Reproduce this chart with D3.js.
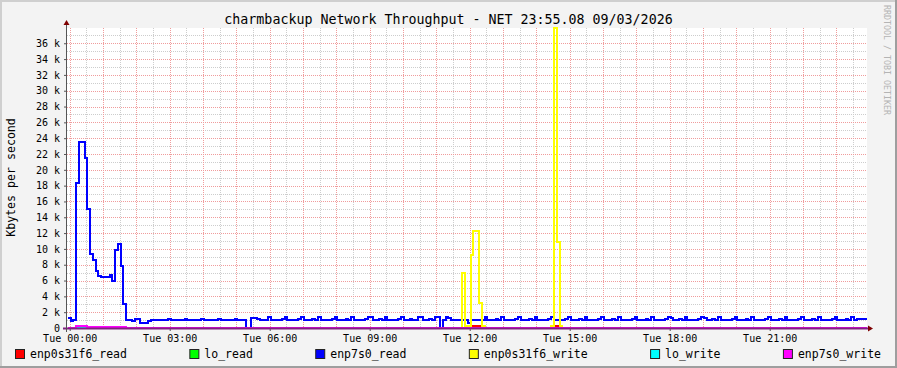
<!DOCTYPE html>
<html>
<head>
<meta charset="utf-8">
<script src="https://cdn.jsdelivr.net/npm/d3@7"></script>
<style>
  body { margin: 0; background: #f3f3f3; }
  svg { display: block; }
  text { font-family: "DejaVu Sans Mono", monospace; }
</style>
</head>
<body>
<script>
const title = "charmbackup Network Throughput - NET 23:55.08 09/03/2026";
const yLabel = "Kbytes per second";
const watermark = "RRDTOOL / TOBI OETIKER";

const seriesNames = ["enp0s31f6_read", "lo_read", "enp7s0_read", "enp0s31f6_write", "lo_write", "enp7s0_write"];
const seriesColors = ["#ff0000", "#00ff00", "#0000ff", "#ffff00", "#00ffff", "#ff00ff"];

// 5 minute samples, Mon 23:55 .. Tue 23:50 (288 values, kbytes/s)
const enp0s31f6_read = [
  0,0,0,0,0,0,0,0,0,0,0,0,0,0,0,0,0,0,0,0,0,0,0,0,
  0,0,0,0,0,0,0,0,0,0,0,0,0,0,0,0,0,0,0,0,0,0,0,0,
  0,0,0,0,0,0,0,0,0,0,0,0,0,0,0,0,0,0,0,0,0,0,0,0,
  0,0,0,0,0,0,0,0,0,0,0,0,0,0,0,0,0,0,0,0,0,0,0,0,
  0,0,0,0,0,0,0,0,0,0,0,0,0,0,0,0,0,0,0,0,0,0,0,0,
  0,0,0,0,0,0,0,0,0,0,0,0,0,0,0,0,0,0,0,0,0,0,0,0,
  0,0.3,0.3,0.3,0.25,0,0,0,0,0,0,0,0,0,0,0,0,0,0,0,0,0,0,0,
  0,0,0,0,0,0,0,0.25,0.2,0,0,0,0,0,0,0,0,0,0,0,0,0,0,0,
  0,0,0,0,0,0,0,0,0,0,0,0,0,0,0,0,0,0,0,0,0,0,0,0,
  0,0,0,0,0,0,0,0,0,0,0,0,0,0,0,0,0,0,0,0,0,0,0,0,
  0,0,0,0,0,0,0,0,0,0,0,0,0,0,0,0,0,0,0,0,0,0,0,0,
  0,0,0,0,0,0,0,0,0,0,0,0,0,0,0,0,0,0,0,0,0,0,0,0
];
const lo_read = [
  0,0,0,0,0.05,0.05,0,0,0,0,0,0,0,0,0,0,0,0,0,0,0,0,0,0,
  0,0,0,0,0,0,0,0,0,0,0,0,0,0,0,0,0,0,0,0,0,0,0,0,
  0,0,0,0,0,0,0,0,0,0,0,0,0,0,0,0,0,0,0,0,0,0,0,0,
  0,0,0,0,0,0,0,0,0,0,0,0,0,0,0,0,0,0,0,0,0,0,0,0,
  0,0,0,0,0,0,0,0,0,0,0,0,0,0,0,0,0,0,0,0,0,0,0,0,
  0,0,0,0,0,0,0,0,0,0,0,0,0,0,0,0,0,0,0,0,0,0,0,0,
  0,0,0,0,0,0,0,0,0,0,0,0,0,0,0,0,0,0,0,0,0,0,0,0,
  0,0,0,0,0,0,0,0,0,0,0,0,0,0,0,0,0,0,0,0,0,0,0,0,
  0,0,0,0,0,0,0,0,0,0,0,0,0,0,0,0,0,0,0,0,0,0,0,0,
  0,0,0,0,0,0,0,0,0,0,0,0,0,0,0,0,0,0,0,0,0,0,0,0,
  0,0,0,0,0,0,0,0,0,0,0,0,0,0,0,0,0,0,0,0,0,0,0,0,
  0,0,0,0,0,0,0,0,0,0,0,0,0,0,0,0,0,0,0,0,0,0,0,0
];
const enp7s0_read = [
  1.3,0.85,0.95,18.3,23.5,23.5, 21.5,15.0,9.4,8.6,7.2,6.6,
  6.45,6.45,6.45,6.75,6.0,9.8, 10.65,7.8,3.07,1.05,1.05,0.85,
  1.1,1.1,0.63,0.63,0.63,0.88, 1.0,1.0,1.0,1.05,1.0,1.0,
  1.15,1.0,1.0,0.95,1.0,1.05, 1.15,1.0,1.0,1.0,1.05,1.0,
  1.15,1.05,1.0,0.95,1.0,1.0, 1.15,1.0,1.0,1.0,1.05,1.0,
  1.15,1.0,1.0,1.0,0,0, 1.25,1.25,1.2,1.05,1.0,1.05,
  1.4,1.05,1.0,1.0,1.0,1.1, 1.4,1.0,1.0,1.05,1.0,1.1,
  1.4,1.0,0.95,1.0,1.1,1.0, 1.4,1.05,1.0,1.0,1.0,1.1,
  1.4,1.0,1.0,1.05,1.1,1.0, 1.45,1.0,1.0,1.0,1.0,1.1,
  1.4,1.4,1.0,1.0,1.1,1.0, 1.45,1.0,1.05,1.0,1.0,1.15,
  1.4,1.0,1.0,1.1,1.0,1.05, 1.45,1.45,1.0,1.0,1.15,1.0,
  1.4,1.4,0.05,1.0,1.4,1.3, 1.05,1.0,1.0,1.05,1.0,1.0,
  0.6,1.05,1.05,1.05,1.0,1.05, 1.4,1.05,1.0,1.0,1.1,1.0,
  1.4,1.0,1.0,1.05,1.0,1.1, 1.4,1.05,1.0,1.0,1.1,1.0,
  1.4,1.0,1.0,1.05,1.0,1.1, 1.35,1.0,1.05,1.0,1.0,1.1,
  1.4,1.05,1.0,1.0,1.1,1.0, 1.35,1.0,1.0,1.05,1.0,1.1,
  1.4,1.0,1.0,1.0,1.1,1.05, 1.35,1.05,1.0,1.0,1.0,1.1,
  1.4,1.0,1.0,1.05,1.1,1.0, 1.4,1.0,0.95,1.0,1.0,1.1,
  1.4,1.3,1.0,1.0,1.1,1.0, 1.4,1.0,1.0,1.05,1.0,1.1,
  1.4,1.3,1.0,1.0,1.1,1.05, 1.4,1.05,1.0,1.0,1.0,1.1,
  1.4,1.0,1.0,1.05,1.1,1.0, 1.35,1.0,1.0,1.0,1.0,1.1,
  1.4,1.05,1.0,1.0,1.1,1.0, 1.4,1.0,1.0,1.05,1.0,1.1,
  1.35,1.0,1.0,1.0,1.1,1.05, 1.4,1.05,1.0,1.0,1.0,1.1,
  1.4,1.0,1.0,1.05,1.1,1.0, 1.35,1.0,1.1,1.15,1.15,1.15
];
const enp0s31f6_write = [
  0,0,0,0,0,0,0,0,0,0,0,0,0,0,0,0,0,0,0,0,0,0,0,0,
  0,0,0,0,0,0,0,0,0,0,0,0,0,0,0,0,0,0,0,0,0,0,0,0,
  0,0,0,0,0,0,0,0,0,0,0,0,0,0,0,0,0,0,0,0,0,0,0,0,
  0,0,0,0,0,0,0,0,0,0,0,0,0,0,0,0,0,0,0,0,0,0,0,0,
  0,0,0,0,0,0,0,0,0,0,0,0,0,0,0,0,0,0,0,0,0,0,0,0,
  0,0,0,0,0,0,0,0,0,0,0,0,0,0,0,0,0,0,0,0,0,0,6.9,0.2,
  0.2,9.2,12.3,12.3,3.1,0.2,0,0,0,0,0,0,0,0,0,0,0,0,0,0,0,0,0,0,
  0,0,0,0,0,0,0.2,37.93,10.9,0.2,0,0,0,0,0,0,0,0,0,0,0,0,0,0,
  0,0,0,0,0,0,0,0,0,0,0,0,0,0,0,0,0,0,0,0,0,0,0,0,
  0,0,0,0,0,0,0,0,0,0,0,0,0,0,0,0,0,0,0,0,0,0,0,0,
  0,0,0,0,0,0,0,0,0,0,0,0,0,0,0,0,0,0,0,0,0,0,0,0,
  0,0,0,0,0,0,0,0,0,0,0,0,0,0,0,0,0,0,0,0,0,0,0,0
];
const lo_write = lo_read.slice();
const enp7s0_write = [
  0,0,0,0.3,0.3,0.3,0.3,0.08,0.08,0.08,0.08,0.08,0.08,0.08,0.08,0.08,0.08,0.08,0.08,0.08,0.08,0,0,0,
  0,0,0,0,0,0,0,0,0,0,0,0,0,0,0,0,0,0,0,0,0,0,0,0,
  0,0,0,0,0,0,0,0,0,0,0,0,0,0,0,0,0,0,0,0,0,0,0,0,
  0,0,0,0,0,0,0,0,0,0,0,0,0,0,0,0,0,0,0,0,0,0,0,0,
  0,0,0,0,0,0,0,0,0,0,0,0,0,0,0,0,0,0,0,0,0,0,0,0,
  0,0,0,0,0,0,0,0,0,0,0,0,0,0,0,0,0,0,0,0,0,0,0,0,
  0,0,0,0,0,0,0,0,0,0,0,0,0,0,0,0,0,0,0,0,0,0,0,0,
  0,0,0,0,0,0,0,0,0,0,0,0,0,0,0,0,0,0,0,0,0,0,0,0,
  0,0,0,0,0,0,0,0,0,0,0,0,0,0,0,0,0,0,0,0,0,0,0,0,
  0,0,0,0,0,0,0,0,0,0,0,0,0,0,0,0,0,0,0,0,0,0,0,0,
  0,0,0,0,0,0,0,0,0,0,0,0,0,0,0,0,0,0,0,0,0,0,0,0,
  0,0,0,0,0,0,0,0,0,0,0,0,0,0,0,0,0,0,0,0,0,0,0,0
];
const seriesValues = [enp0s31f6_read, lo_read, enp7s0_read, enp0s31f6_write, lo_write, enp7s0_write];

const yTicks = [0, 2, 4, 6, 8, 10, 12, 14, 16, 18, 20, 22, 24, 26, 28, 30, 32, 34, 36];
const xTickHours = [0, 3, 6, 9, 12, 15, 18, 21];

const width = 897, height = 368;
const margin = {top: 28, right: 30, bottom: 40, left: 67};
const stepMs = 300 * 1000;
const firstSample = Date.UTC(2026, 2, 9, 23, 56, 40);
const viewStart = new Date(Date.UTC(2026, 2, 9, 23, 55, 8));
const viewEnd = new Date(Date.UTC(2026, 2, 10, 23, 55, 8));

const x = d3.scaleUtc()
  .domain([viewStart, viewEnd])
  .range([margin.left, width - margin.right]);

const y = d3.scaleLinear()
  .domain([0, d3.max(seriesValues, s => d3.max(s))])
  .range([height - margin.bottom, margin.top]);

const x0 = margin.left, x1 = width - margin.right;
const y0 = height - margin.bottom, y1 = margin.top;
const px = v => Math.round(v) + 0.5;

const svg = d3.select("body").append("svg")
  .attr("width", width)
  .attr("height", height);

// background + shading
svg.append("rect").attr("width", width).attr("height", height).attr("fill", "#f3f3f3");
svg.append("path").attr("d", `M0,1H${width}M1,0V${height}`).attr("stroke", "#cfcfcf").attr("stroke-width", 2);
svg.append("path").attr("d", `M0,${height - 1}H${width}M${width - 1},0V${height}`).attr("stroke", "#9e9e9e").attr("stroke-width", 2);

svg.append("rect")
  .attr("x", x0).attr("y", y1)
  .attr("width", x1 - x0).attr("height", y0 - y1)
  .attr("fill", "#ffffff");

// grid
const grid = svg.append("g").attr("shape-rendering", "crispEdges").attr("stroke-dasharray", "1,1").attr("stroke-width", 1);
const minorY = d3.range(1, Math.floor(y.domain()[1]) + 1).filter(v => v % 2);
const majorY = d3.range(2, Math.floor(y.domain()[1]) + 1, 2);
const minorX = x.ticks(d3.utcMinute.every(30)).filter(d => d.getUTCMinutes() === 30);
const majorX = x.ticks(d3.utcHour.every(1));

grid.selectAll(".hmin").data(minorY).join("line")
  .attr("x1", x0).attr("x2", x1)
  .attr("y1", d => px(y(d))).attr("y2", d => px(y(d)))
  .attr("stroke", "#cdcdcd");
grid.selectAll(".vmin").data(minorX).join("line")
  .attr("y1", y1).attr("y2", y0)
  .attr("x1", d => px(x(d))).attr("x2", d => px(x(d)))
  .attr("stroke", "#cdcdcd");
grid.selectAll(".hmaj").data(majorY).join("line")
  .attr("x1", x0).attr("x2", x1)
  .attr("y1", d => px(y(d))).attr("y2", d => px(y(d)))
  .attr("stroke", "#f09c9c");
grid.selectAll(".vmaj").data(majorX).join("line")
  .attr("y1", y1).attr("y2", y0)
  .attr("x1", d => px(x(d))).attr("x2", d => px(x(d)))
  .attr("stroke", "#f09c9c");

// series lines (step)
svg.append("clipPath").attr("id", "plot")
  .append("rect").attr("x", x0).attr("y", y1 - 2).attr("width", x1 - x0).attr("height", y0 - y1 + 4);

const line = d3.line()
  .x(d => Math.round(x(new Date(d[0]))))
  .y(d => Math.round(y(d[1])))
  .curve(d3.curveStepAfter);

const lines = svg.append("g").attr("clip-path", "url(#plot)").attr("shape-rendering", "crispEdges");
seriesValues.forEach((vals, k) => {
  const pts = vals.map((v, i) => [firstSample + i * stepMs, v]);
  pts.push([firstSample + vals.length * stepMs, vals[vals.length - 1]]);
  lines.append("path")
    .attr("d", line(pts))
    .attr("fill", "none")
    .attr("stroke", seriesColors[k])
    .attr("stroke-width", 2)
    .attr("stroke-linejoin", "miter");
});

// axes
const yAxis = svg.append("g")
  .attr("transform", `translate(${x0},0)`)
  .call(d3.axisLeft(y).tickValues(yTicks).tickFormat(d => d === 0 ? "0" : `${d} k`).tickSize(3).tickPadding(4));
yAxis.select(".domain").remove();
yAxis.selectAll("text").attr("font-family", "DejaVu Sans Mono").attr("font-size", 10).attr("fill", "#000");
yAxis.selectAll("line").attr("stroke", "#555");

const xTickDates = xTickHours.map(h => new Date(Date.UTC(2026, 2, 10, h, 0, 0)));
const xAxis = svg.append("g")
  .attr("transform", `translate(0,${y0})`)
  .call(d3.axisBottom(x).tickValues(xTickDates).tickFormat(d3.utcFormat("%a %H:%M")).tickSize(3).tickPadding(4));
xAxis.select(".domain").remove();
xAxis.selectAll("text").attr("font-family", "DejaVu Sans Mono").attr("font-size", 10).attr("fill", "#000");
xAxis.selectAll("line").attr("stroke", "#555");

// axis lines + arrows
svg.append("path")
  .attr("d", `M${x0 - 4},${y0 + 0.5}H${x1 + 4}`)
  .attr("stroke", "#80207f").attr("stroke-width", 2);
svg.append("path")
  .attr("d", `M${x0 - 0.5},${y0 + 4}V${y1 - 4}`)
  .attr("stroke", "#555").attr("stroke-width", 1);
svg.append("path")
  .attr("d", `M${x0 - 3.5},${y1 - 3}L${x0 - 0.5},${y1 - 8}L${x0 + 2.5},${y1 - 3}Z`)
  .attr("fill", "#7f0000");
svg.append("path")
  .attr("d", `M${x1 + 1},${y0 - 2.5}L${x1 + 6},${y0 + 0.5}L${x1 + 1},${y0 + 3.5}Z`)
  .attr("fill", "#7f0000");

// titles
svg.append("text")
  .attr("x", width / 2).attr("y", 23.5)
  .attr("text-anchor", "middle")
  .attr("font-size", 13.3)
  .text(title);

svg.append("text")
  .attr("transform", "translate(15,177.5) rotate(-90)")
  .attr("text-anchor", "middle")
  .attr("font-size", 11.6)
  .text(yLabel);

svg.append("text")
  .attr("transform", "translate(884,60) rotate(90)")
  .attr("text-anchor", "middle")
  .attr("font-size", 8.3)
  .attr("fill", "#b4b4b4")
  .text(watermark);

// legend, justified across the width
const legend = svg.append("g");
const items = legend.selectAll("g").data(seriesNames).join("g");
items.append("rect")
  .attr("x", 0.5).attr("y", 349.5).attr("width", 9).attr("height", 9)
  .attr("fill", (d, i) => seriesColors[i])
  .attr("stroke", "#222");
items.append("text")
  .attr("x", 15).attr("y", 358)
  .attr("font-size", 11.5)
  .text(d => d);
const widths = [];
items.each(function() { widths.push(15 + d3.select(this).select("text").node().getComputedTextLength()); });
const gap = (881 - 15 - d3.sum(widths)) / (widths.length - 1);
let cx = 15;
items.each(function(d, i) {
  d3.select(this).attr("transform", `translate(${cx},0)`);
  cx += widths[i] + gap;
});
</script>
</body>
</html>
